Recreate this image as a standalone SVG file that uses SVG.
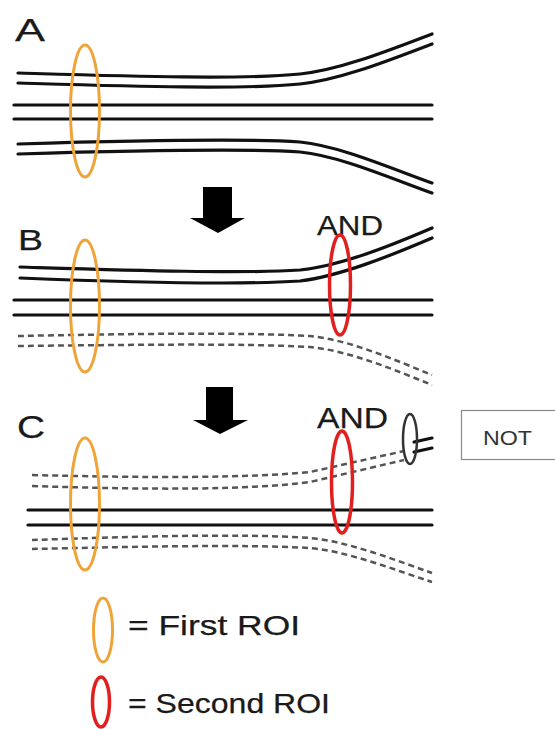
<svg xmlns="http://www.w3.org/2000/svg" width="555" height="729" viewBox="0 0 555 729">
  <style>
    .fiber { fill: none; stroke: #111; stroke-width: 3.2; stroke-linecap: round; }
    .dash { fill: none; stroke: #555; stroke-width: 2.5; stroke-dasharray: 6 4; }
    .roi1 { fill: none; stroke: #EFA43A; stroke-width: 3; }
    .roi2 { fill: none; stroke: #E21F1F; stroke-width: 3.5; }
    .roiNot { fill: none; stroke: #333; stroke-width: 2.5; }
    .label { font-family: "Liberation Sans", Arial, sans-serif; fill: #1a1a1a; stroke: #1a1a1a; stroke-width: 0.25; }
    .arrow { fill: #000; }
  </style>

  <rect width="555" height="729" fill="#fff"/>

  <!-- Panel A: all fibres through the first ROI -->
  <g id="panelA">
    <text class="label" x="15" y="41" font-size="32" textLength="30" lengthAdjust="spacingAndGlyphs">A</text>
    <path class="fiber" d="M18,73 C120,76 240,80 300,74 C340,70 390,50 432,34"/>
    <path class="fiber" d="M18,83 C120,86 240,90 300,84 C340,80 390,60 432,44"/>
    <path class="fiber" d="M14,105 H432"/>
    <path class="fiber" d="M14,119 H432"/>
    <path class="fiber" d="M18,144 C120,141 240,138 300,142 C340,146 390,168 432,183"/>
    <path class="fiber" d="M18,154 C120,151 240,148 300,152 C340,156 390,178 432,193"/>
    <ellipse class="roi1" cx="85" cy="111" rx="14.5" ry="66"/>
  </g>

  <!-- Panel B: first ROI AND second ROI -->
  <g id="panelB">
    <text class="label" x="18" y="250" font-size="29" textLength="25" lengthAdjust="spacingAndGlyphs">B</text>
    <text class="label" x="317" y="235" font-size="28" textLength="66" lengthAdjust="spacingAndGlyphs">AND</text>
    <path class="fiber" d="M20,267 C120,270 240,274 300,270 C340,266 390,246 432,228"/>
    <path class="fiber" d="M20,278 C120,282 240,285 300,281 C340,276 390,256 432,238"/>
    <path class="fiber" d="M14,300 H432"/>
    <path class="fiber" d="M14,315 H432"/>
    <path class="dash" d="M18,336 C120,334 240,332 310,336 C350,340 395,360 432,375"/>
    <path class="dash" d="M18,346 C120,345 240,343 310,347 C350,351 395,370 432,385"/>
    <ellipse class="roi1" cx="85" cy="306" rx="14.5" ry="66"/>
    <ellipse class="roi2" cx="340" cy="285" rx="10.5" ry="50"/>
  </g>

  <!-- Panel C: first ROI AND second ROI, NOT third ROI -->
  <g id="panelC">
    <text class="label" x="17" y="438" font-size="32" textLength="28" lengthAdjust="spacingAndGlyphs">C</text>
    <text class="label" x="317" y="428" font-size="29" textLength="71" lengthAdjust="spacingAndGlyphs">AND</text>
    <path class="dash" d="M32,475 C150,478 250,478 310,472 L404,451"/>
    <path class="dash" d="M32,486 C150,490 250,490 310,482 L404,460"/>
    <path class="fiber" d="M414,442 L432,438" stroke-width="2.5"/>
    <path class="fiber" d="M414,452 L432,448" stroke-width="2.5"/>
    <path class="fiber" d="M28,510 H432"/>
    <path class="fiber" d="M28,525 H432"/>
    <path class="dash" d="M32,540 C120,537 240,533 310,538 C350,542 395,560 432,573"/>
    <path class="dash" d="M32,549 C120,547 240,544 310,548 C350,552 395,570 432,582"/>
    <ellipse class="roi1" cx="85" cy="504" rx="14.5" ry="66"/>
    <ellipse class="roi2" cx="342" cy="482" rx="10.5" ry="51"/>
    <ellipse class="roiNot" cx="410" cy="439" rx="7" ry="25"/>
  </g>

  <!-- NOT label box -->
  <g id="notBox">
    <rect x="461.5" y="410.5" width="100" height="49" fill="#fff" stroke="#8a8a8a" stroke-width="1.2"/>
    <text class="label" x="483" y="445" font-size="21" textLength="49" lengthAdjust="spacingAndGlyphs" style="fill:#333;stroke:none">NOT</text>
  </g>

  <!-- Step arrows between panels -->
  <g id="connectors">
    <polygon class="arrow" points="203,187 232,187 232,218 245,218 218,233 190,218 203,218"/>
    <polygon class="arrow" points="206,387 233,387 233,420 248,420 220,434 193,420 206,420"/>
  </g>

  <!-- Legend -->
  <g id="legendFirst">
    <ellipse class="roi1" cx="103" cy="630" rx="9.5" ry="32"/>
    <text class="label" x="128" y="635" font-size="28" textLength="172" lengthAdjust="spacingAndGlyphs">= First ROI</text>
  </g>
  <g id="legendSecond">
    <ellipse class="roi2" cx="101" cy="702" rx="8.5" ry="25" stroke-width="4"/>
    <text class="label" x="128" y="713" font-size="28" textLength="202" lengthAdjust="spacingAndGlyphs">= Second ROI</text>
  </g>
</svg>
